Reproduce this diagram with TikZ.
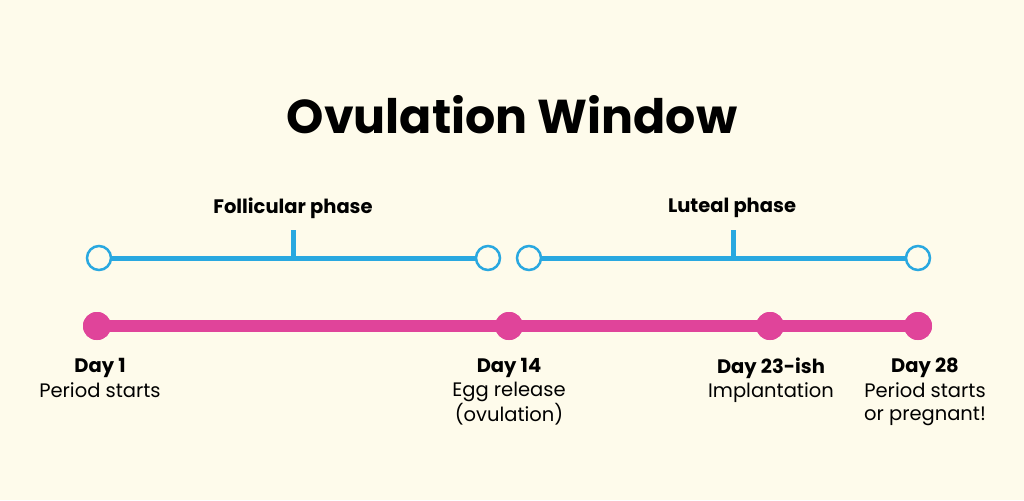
\documentclass[tikz,border=0pt]{standalone}
\usepackage{fontspec}
\setmainfont{Poppins}
\definecolor{bg}{RGB}{254,251,235}
\definecolor{bl}{RGB}{41,168,224}
\definecolor{pk}{RGB}{224,68,154}
\begin{document}
\begin{tikzpicture}[x=1pt,y=-1pt,
  ring/.style={circle,draw=bl,line width=2.5pt,fill=bg,minimum size=24pt,inner sep=0pt},
  dot/.style={circle,fill=pk,minimum size=28pt,inner sep=0pt},
  lab/.style={font=\fontsize{19.5}{23}\selectfont,align=center,text depth=0pt},
  blab/.style={font=\fontsize{19.5}{23}\selectfont\bfseries}]
\fill[bg] (0,0) rectangle (1024,500);
\useasboundingbox (0,0) rectangle (1024,500);
\node[font=\fontsize{47.5}{55}\selectfont\bfseries] (title) at (512,115) {Ovulation Window};
\coordinate (b1) at (99,258); \coordinate (b2) at (488,258);
\coordinate (b3) at (529,258); \coordinate (b4) at (918,258);
\draw[bl,line width=5pt] (b1)--(b2) (b3)--(b4);
\coordinate (t1) at (293,258); \coordinate (t1e) at (293,230);
\coordinate (t2) at (733,258); \coordinate (t2e) at (733,230);
\draw[bl,line width=5pt] (t1)--(t1e) (t2)--(t2e);
\foreach \c in {b1,b2,b3,b4} \node[ring] at (\c) {};
\node[blab] (fp) at (293,208) {Follicular phase};
\node[blab] (lp) at (732,208) {Luteal phase};
\node[dot] (d1) at (97,326) {};
\node[dot] (d14) at (509,326) {};
\node[dot] (d23) at (770,326) {};
\node[dot] (d28) at (918,326) {};
\draw[pk,line width=12pt] (d1.center)--(d28.center);
\foreach \c in {d1,d14,d23,d28} \node[dot] at (\c) {};
\node[blab] (l1) at (100,368) {Day 1};
\node[lab,anchor=north] (s1) at (100,379) {Period starts};
\node[blab] (l14) at (509,368) {Day 14};
\node[lab,anchor=north] (s14) at (509,379) {Egg release\\(ovulation)};
\node[blab] (l23) at (771,368) {Day 23-ish};
\node[lab,anchor=north] (s23) at (771,379) {Implantation};
\node[blab] (l28) at (925,368) {Day 28};
\node[lab,anchor=north] (s28) at (925,379) {Period starts\\or pregnant!};
\end{tikzpicture}
\end{document}
